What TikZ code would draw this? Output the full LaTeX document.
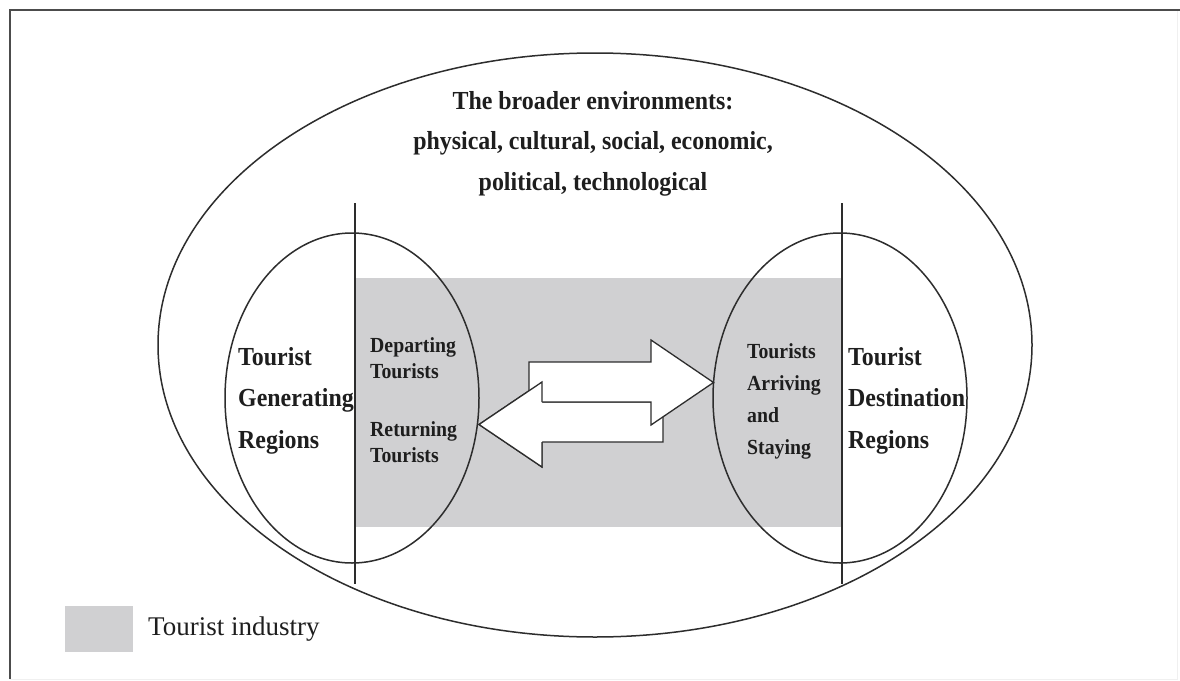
\documentclass[tikz,border=0pt]{standalone}
\usepackage{fontspec}
\setmainfont{Liberation Serif}
\newfontfamily\headfont[FakeStretch=0.92]{Liberation Serif}
\usetikzlibrary{shapes.geometric}

\definecolor{industry}{RGB}{208,208,210}
\definecolor{ink}{RGB}{30,30,30}
\definecolor{linecol}{RGB}{45,45,45}

\tikzset{
  region/.style={ellipse, draw=linecol, line width=1.5pt, inner sep=0pt,
                 minimum width=254pt, minimum height=330pt},
  divider/.style={draw=linecol, line width=1.5pt},
  flow/.style={fill=white, draw=linecol, line width=1.3pt, line join=miter},
  bigtext/.style={font=\headfont\bfseries\fontsize{26}{41.5}\selectfont, text=ink,
                  inner sep=0pt, anchor=base west},
  smalltext/.style={font=\headfont\bfseries\fontsize{21.5}{26}\selectfont, text=ink,
                  inner sep=0pt, anchor=base west},
}

\begin{document}
\begin{tikzpicture}[x=1pt, y=-1pt]
  \useasboundingbox (0,0) rectangle (1180,680);
  \fill[white] (0,0) rectangle (1180,680);

  % frame
  \draw[gray!12, line width=1pt] (1177,10) -- (1177,679) -- (10,679);
  \draw[black!70, line width=2.5pt] (10,679) -- (10,10) -- (1180,10);

  % tourist industry band
  \fill[industry] (355,278) rectangle (842,527);

  % broader environment
  \node[ellipse, draw=linecol, line width=1.5pt, inner sep=0pt,
        minimum width=874pt, minimum height=584pt] (env) at (595,345) {};

  % generating and destination regions
  \node[region] (gen) at (352,398) {};
  \node[region] (dest) at (840,398) {};
  \coordinate (gtop) at (355,203);
  \coordinate (gbot) at (355,584);
  \coordinate (dtop) at (842,203);
  \coordinate (dbot) at (842,584);
  \draw[divider] (gtop) -- (gbot);
  \draw[divider] (dtop) -- (dbot);

  % return flow (left arrow)
  \coordinate (rettip) at (479,424.5);
  \draw[flow] (663,402) -- (542,402) -- (542,382) -- (rettip)
              -- (542,467) -- (542,442) -- (663,442) -- cycle;
  % departing flow (right arrow)
  \coordinate (deptip) at (713.5,382.5);
  \draw[flow] (529,362) -- (651,362) -- (651,340) -- (deptip)
              -- (651,425) -- (651,402) -- (529,402) -- cycle;
  % return arrow head lies over the departing shaft
  \fill[white] (542,382) -- (rettip) -- (542,467) -- cycle;
  \draw[flow, fill=none] (542,402) -- (542,382) -- (rettip)
              -- (542,467) -- (542,442);

  % labels
  \node[font=\headfont\bfseries\fontsize{26}{40.5}\selectfont, text=ink,
        inner sep=0pt, anchor=base] (envlabel) at (593,109)
    {\begin{tabular}[t]{@{}c@{}}The broader environments:\\
     physical, cultural, social, economic,\\ political, technological\end{tabular}};

  \node[bigtext] (genlabel) at (238,365)
    {\begin{tabular}[t]{@{}l@{}}Tourist\\ Generating\\ Regions\end{tabular}};
  \node[smalltext] (outlabel) at (370,352)
    {\begin{tabular}[t]{@{}l@{}}Departing\\ Tourists\\[32pt] Returning\\ Tourists\end{tabular}};
  \node[smalltext, font=\headfont\bfseries\fontsize{21.5}{32}\selectfont] (staylabel) at (747,358)
    {\begin{tabular}[t]{@{}l@{}}Tourists\\ Arriving\\ and\\ Staying\end{tabular}};
  \node[bigtext] (destlabel) at (848,365)
    {\begin{tabular}[t]{@{}l@{}}Tourist\\ Destination\\ Regions\end{tabular}};

  % legend
  \node[fill=industry, inner sep=0pt, minimum width=68pt, minimum height=46pt,
        anchor=north west] (key) at (65,606) {};
  \node[font=\fontsize{27}{32}\selectfont, text=ink, inner sep=0pt,
        anchor=base west] (keylabel) at (148,635) {Tourist industry};
\end{tikzpicture}
\end{document}
